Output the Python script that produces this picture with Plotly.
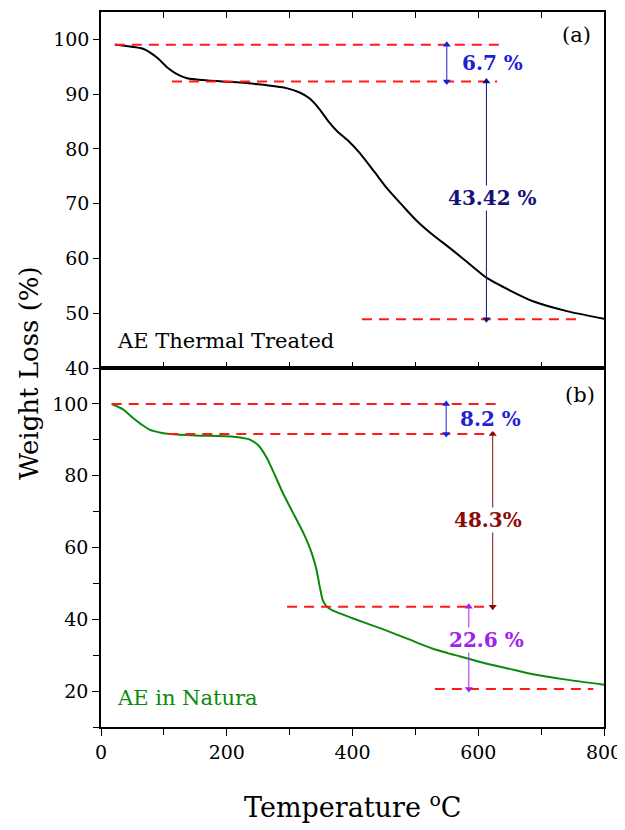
import plotly.graph_objects as go

# ---------------- data ----------------
temp_a = [22, 40, 67, 90, 105, 120, 137, 170, 210, 250, 295, 316, 332, 348, 362, 376,
          394, 412, 435, 455, 480, 502, 530, 555, 585, 613, 650, 687, 741, 800]
weight_a = [99.0, 98.8, 98.3, 96.6, 94.9, 93.7, 92.9, 92.5, 92.2, 91.8, 91.1, 90.3, 89.2,
            87.2, 85.0, 83.2, 81.4, 79.2, 75.8, 72.8, 69.6, 66.9, 64.1, 61.9, 59.1, 56.5,
            54.2, 52.2, 50.4, 49.0]

temp_b = [17, 35, 51, 65, 78, 95, 110, 150, 210, 235, 250, 264, 277, 290, 305, 322, 335,
          343, 348, 353, 360, 369, 400, 449, 490, 528, 570, 608, 650, 687, 740, 800]
weight_b = [100, 98.5, 96.1, 94.2, 92.8, 92.0, 91.6, 91.2, 90.9, 90.2, 88.5, 84.9, 80.0,
            74.9, 69.8, 64.0, 58.5, 53.6, 49.0, 45.2, 43.4, 42.4, 40.3, 37.2, 34.4, 31.8,
            29.7, 27.9, 26.2, 24.7, 23.2, 21.8]

# dashed reference levels: (x start, x end, level)
levels_a = [(22, 640, 99.0), (113, 630, 92.3), (415, 765, 48.9)]
levels_b = [(17, 635, 100.0), (107, 624, 91.6), (296, 611, 43.5), (531, 783, 20.6)]

# steps: (arrow x, y from, y to, label, label x, label y, color)
steps_a = [(550, 99.0, 92.3, "6.7 %", 623, 95.7, "#1f1fd6"),
           (613, 92.3, 48.9, "43.42 %", 622, 71.0, "#12127a")]
steps_b = [(549, 100.0, 91.6, "8.2 %", 620, 95.7, "#1f1fd6"),
           (623, 91.6, 43.5, "48.3%", 616, 67.7, "#8b0a0a"),
           (585, 43.5, 20.6, "22.6 %", 613, 34.3, "#a020f0")]

x_ticks = [0, 200, 400, 600, 800]
ya_ticks = [40, 50, 60, 70, 80, 90, 100]
yb_ticks = [20, 40, 60, 80, 100]

FONT = "DejaVu Serif"
RED = "#ff1a1a"

fig = go.Figure()

fig.add_trace(go.Scatter(x=temp_a, y=weight_a, mode="lines", xaxis="x", yaxis="y",
                         line=dict(color="black", width=2, shape="spline", smoothing=0.6),
                         showlegend=False, hoverinfo="skip"))
fig.add_trace(go.Scatter(x=temp_b, y=weight_b, mode="lines", xaxis="x2", yaxis="y2",
                         line=dict(color="#0a8a0a", width=2, shape="spline", smoothing=0.6),
                         showlegend=False, hoverinfo="skip"))

for (x0, x1, lv) in levels_a:
    fig.add_trace(go.Scatter(x=[x0, x1], y=[lv, lv], mode="lines", xaxis="x", yaxis="y",
                             line=dict(color=RED, width=2, dash="10px,7px"),
                             showlegend=False, hoverinfo="skip"))
for (x0, x1, lv) in levels_b:
    fig.add_trace(go.Scatter(x=[x0, x1], y=[lv, lv], mode="lines", xaxis="x2", yaxis="y2",
                             line=dict(color=RED, width=2, dash="10px,7px"),
                             showlegend=False, hoverinfo="skip"))

annotations = []


def add_steps(steps, xa, ya):
    for (ax_x, y0, y1, label, lx, ly, col) in steps:
        top, bot = max(y0, y1), min(y0, y1)
        # shaft
        fig.add_trace(go.Scatter(x=[ax_x, ax_x], y=[top, bot], mode="lines",
                                 xaxis=xa, yaxis=ya, line=dict(color=col, width=1),
                                 showlegend=False, hoverinfo="skip"))
        # heads
        fig.add_trace(go.Scatter(x=[ax_x, ax_x], y=[top, bot], mode="markers",
                                 xaxis=xa, yaxis=ya,
                                 marker=dict(symbol=["triangle-up", "triangle-down"],
                                             size=7, color=col, line=dict(width=0)),
                                 showlegend=False, hoverinfo="skip"))
        annotations.append(dict(x=lx, y=ly, xref=xa, yref=ya,
                                text="<b>%s</b>" % label,
                                showarrow=False, bgcolor="white", borderpad=0,
                                font=dict(family=FONT, size=20, color=col)))


add_steps(steps_a, "x", "y")
add_steps(steps_b, "x2", "y2")

annotations += [
    dict(x=757, y=100.8, xref="x", yref="y", text="(a)", showarrow=False,
         font=dict(family=FONT, size=21, color="black")),
    dict(x=762, y=102.6, xref="x2", yref="y2", text="(b)", showarrow=False,
         font=dict(family=FONT, size=21, color="black")),
    dict(x=22, y=44.9, xref="x", yref="y", text="AE Thermal Treated", showarrow=False,
         xanchor="left", font=dict(family=FONT, size=21, color="black")),
    dict(x=22, y=18, xref="x2", yref="y2", text="AE in Natura", showarrow=False,
         xanchor="left", font=dict(family=FONT, size=21, color="#0a8a0a")),
    dict(x=-0.142, y=0.495, xref="paper", yref="paper", text="Weight Loss (%)",
         textangle=-90, showarrow=False, xanchor="center", yanchor="middle",
         font=dict(family=FONT, size=26, color="black")),
    dict(x=0.5, y=-0.11, xref="paper", yref="paper", text="Temperature <sup>o</sup>C",
         showarrow=False, xanchor="center", yanchor="middle",
         font=dict(family=FONT, size=27, color="black")),
]

axis_common = dict(showline=True, linecolor="black", linewidth=1.5, showgrid=False,
                   zeroline=False, tickcolor="black", tickwidth=1.2,
                   tickfont=dict(family=FONT, size=19, color="black"))

# page body has an 8px margin: offset the margins so that the plot lands on the
# same pixels as the reference inside the 625x830 window
fig.update_layout(
    width=617, height=822,
    margin=dict(l=93, r=21, t=2, b=103),
    paper_bgcolor="white", plot_bgcolor="white",
    xaxis=dict(domain=[0, 1], anchor="y", range=[0, 800], tickvals=x_ticks,
               showticklabels=False, ticks="inside", ticklen=6, mirror="ticks",
               minor=dict(dtick=100, tick0=0, ticks="inside", ticklen=6,
                          tickcolor="black", tickwidth=1.2),
               **axis_common),
    yaxis=dict(domain=[0.502, 1], anchor="x", range=[40, 105], tickvals=ya_ticks,
               ticks="outside", ticklen=6, mirror=True, **axis_common),
    xaxis2=dict(domain=[0, 1], anchor="y2", range=[0, 800], tickvals=x_ticks,
                ticks="outside", ticklen=7, mirror=True,
                minor=dict(dtick=100, tick0=0, ticks="outside", ticklen=6,
                           tickcolor="black", tickwidth=1.2),
                **axis_common),
    xaxis3=dict(overlaying="x2", anchor="y2", side="top", range=[0, 800],
                dtick=100, tick0=0, showticklabels=False, ticks="inside", ticklen=6,
                showline=False, showgrid=False, zeroline=False, tickcolor="black",
                tickwidth=1.2),
    yaxis2=dict(domain=[0, 0.502], anchor="x2", range=[10, 110], tickvals=yb_ticks,
                ticks="outside", ticklen=7, mirror=True,
                minor=dict(dtick=10, tick0=0, ticks="outside", ticklen=6,
                           tickcolor="black", tickwidth=1.2),
                **axis_common),
    annotations=annotations,
)

fig.write_html("out.html")
